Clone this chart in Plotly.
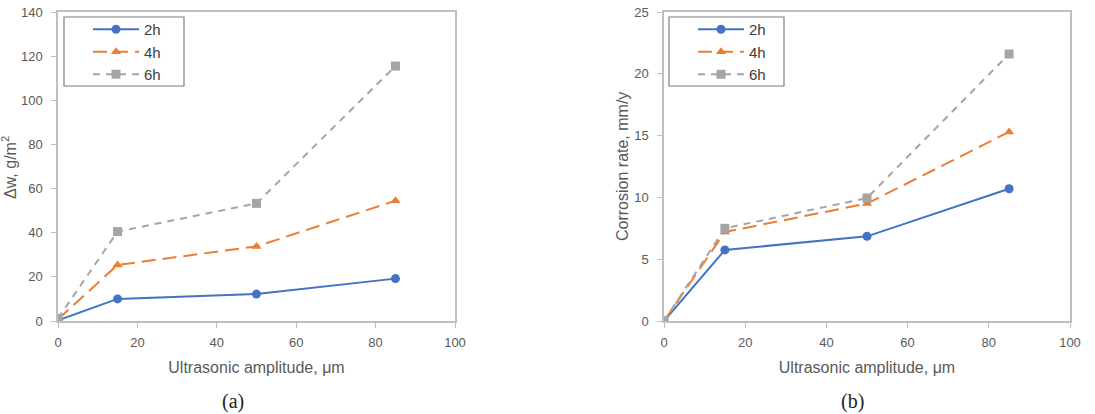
import plotly.graph_objects as go

amplitude = [0, 15, 50, 85]
series_names = ["2h", "4h", "6h"]

dw_2h = [0.3, 10.0, 12.2, 19.2]
dw_4h = [0.8, 25.4, 33.8, 54.5]
dw_6h = [1.2, 40.5, 53.3, 115.5]

cr_2h = [0.0, 5.75, 6.85, 10.7]
cr_4h = [0.0, 7.2, 9.5, 15.3]
cr_6h = [0.0, 7.5, 9.95, 21.6]

colors = ["#4472C4", "#ED7D31", "#A5A5A5"]
symbols = ["circle", "triangle-up", "square"]
dashes_px = ["solid", "14px,7px", "7px,6px"]

fig = go.Figure()

left_data = [dw_2h, dw_4h, dw_6h]
right_data = [cr_2h, cr_4h, cr_6h]

for i, name in enumerate(series_names):
    fig.add_trace(go.Scatter(
        x=amplitude, y=left_data[i], name=name, mode="lines+markers",
        line=dict(color=colors[i], width=2, dash=dashes_px[i]),
        marker=dict(symbol=symbols[i], size=9, color=colors[i]),
        xaxis="x", yaxis="y", legend="legend"))
for i, name in enumerate(series_names):
    fig.add_trace(go.Scatter(
        x=amplitude, y=right_data[i], name=name, mode="lines+markers",
        line=dict(color=colors[i], width=2, dash=dashes_px[i]),
        marker=dict(symbol=symbols[i], size=9, color=colors[i]),
        xaxis="x2", yaxis="y2", legend="legend2"))

W, H = 1095, 414
ydom = [1 - 321 / H, 1 - 12 / H]
axis_color = "#BFBFBF"
tick_font = dict(family="Liberation Sans, Arial", size=13, color="#595959")
title_font = dict(family="Liberation Sans, Arial", size=16, color="#595959")
legend_font = dict(family="Liberation Sans, Arial", size=15, color="#404040")

common_x = dict(range=[0, 100], dtick=20, tick0=0, showgrid=False, zeroline=False,
                showline=True, linecolor=axis_color, linewidth=1.5, mirror=True,
                ticks="outside", ticklen=5, tickcolor=axis_color, ticklabelstandoff=4,
                tickfont=tick_font, title_font=title_font, title_standoff=12,
                automargin=False)
common_y = dict(showgrid=False, zeroline=False, showline=True, linecolor=axis_color,
                linewidth=1.5, mirror=True, ticks="outside", ticklen=5,
                tickcolor=axis_color, tickfont=tick_font, title_font=title_font,
                ticklabelstandoff=6, domain=ydom, automargin=False)

legend_common = dict(xanchor="left", yanchor="top", borderwidth=0,
                     bgcolor="rgba(0,0,0,0)", font=legend_font,
                     itemwidth=46, tracegroupgap=0)

def legend_box(x0, x1):
    return dict(type="rect", xref="paper", yref="paper",
                x0=x0 / W, x1=x1 / W, y0=1 - 86 / H, y1=1 - 17 / H,
                line=dict(color="#7F7F7F", width=1.2), fillcolor="white", layer="above")

fig.update_layout(
    width=W, height=H,
    margin=dict(l=0, r=0, t=0, b=0),
    paper_bgcolor="white", plot_bgcolor="white",
    xaxis=dict(domain=[58 / W, 455 / W], anchor="y",
               title_text="Ultrasonic amplitude, μm", **common_x),
    yaxis=dict(range=[0, 140], dtick=20, anchor="x", **common_y),
    xaxis2=dict(domain=[664 / W, 1070 / W], anchor="y2",
                title_text="Ultrasonic amplitude, μm", **common_x),
    yaxis2=dict(range=[0, 25], dtick=5, anchor="x2", **common_y),
    legend=dict(x=88 / W, y=1 - 13 / H, **legend_common),
    legend2=dict(x=693 / W, y=1 - 13 / H, **legend_common),
    shapes=[legend_box(64, 184), legend_box(669, 784)],
    annotations=[
        dict(text="Δw, g/m<sup>2</sup>", x=9 / W, y=1 - 168 / H, xref="paper", yref="paper",
             xanchor="center", yanchor="middle", textangle=-90, showarrow=False,
             font=title_font),
        dict(text="Corrosion rate, mm/y", x=622 / W, y=1 - 167 / H, xref="paper", yref="paper",
             xanchor="center", yanchor="middle", textangle=-90, showarrow=False,
             font=title_font),
        dict(text="(a)", x=233 / W, y=1 - 401 / H, xref="paper", yref="paper",
             xanchor="center", yanchor="middle", showarrow=False,
             font=dict(family="Liberation Serif, Times New Roman", size=20, color="#222222")),
        dict(text="(b)", x=853 / W, y=1 - 401 / H, xref="paper", yref="paper",
             xanchor="center", yanchor="middle", showarrow=False,
             font=dict(family="Liberation Serif, Times New Roman", size=20, color="#222222")),
    ],
)

fig.write_html("out.html")
